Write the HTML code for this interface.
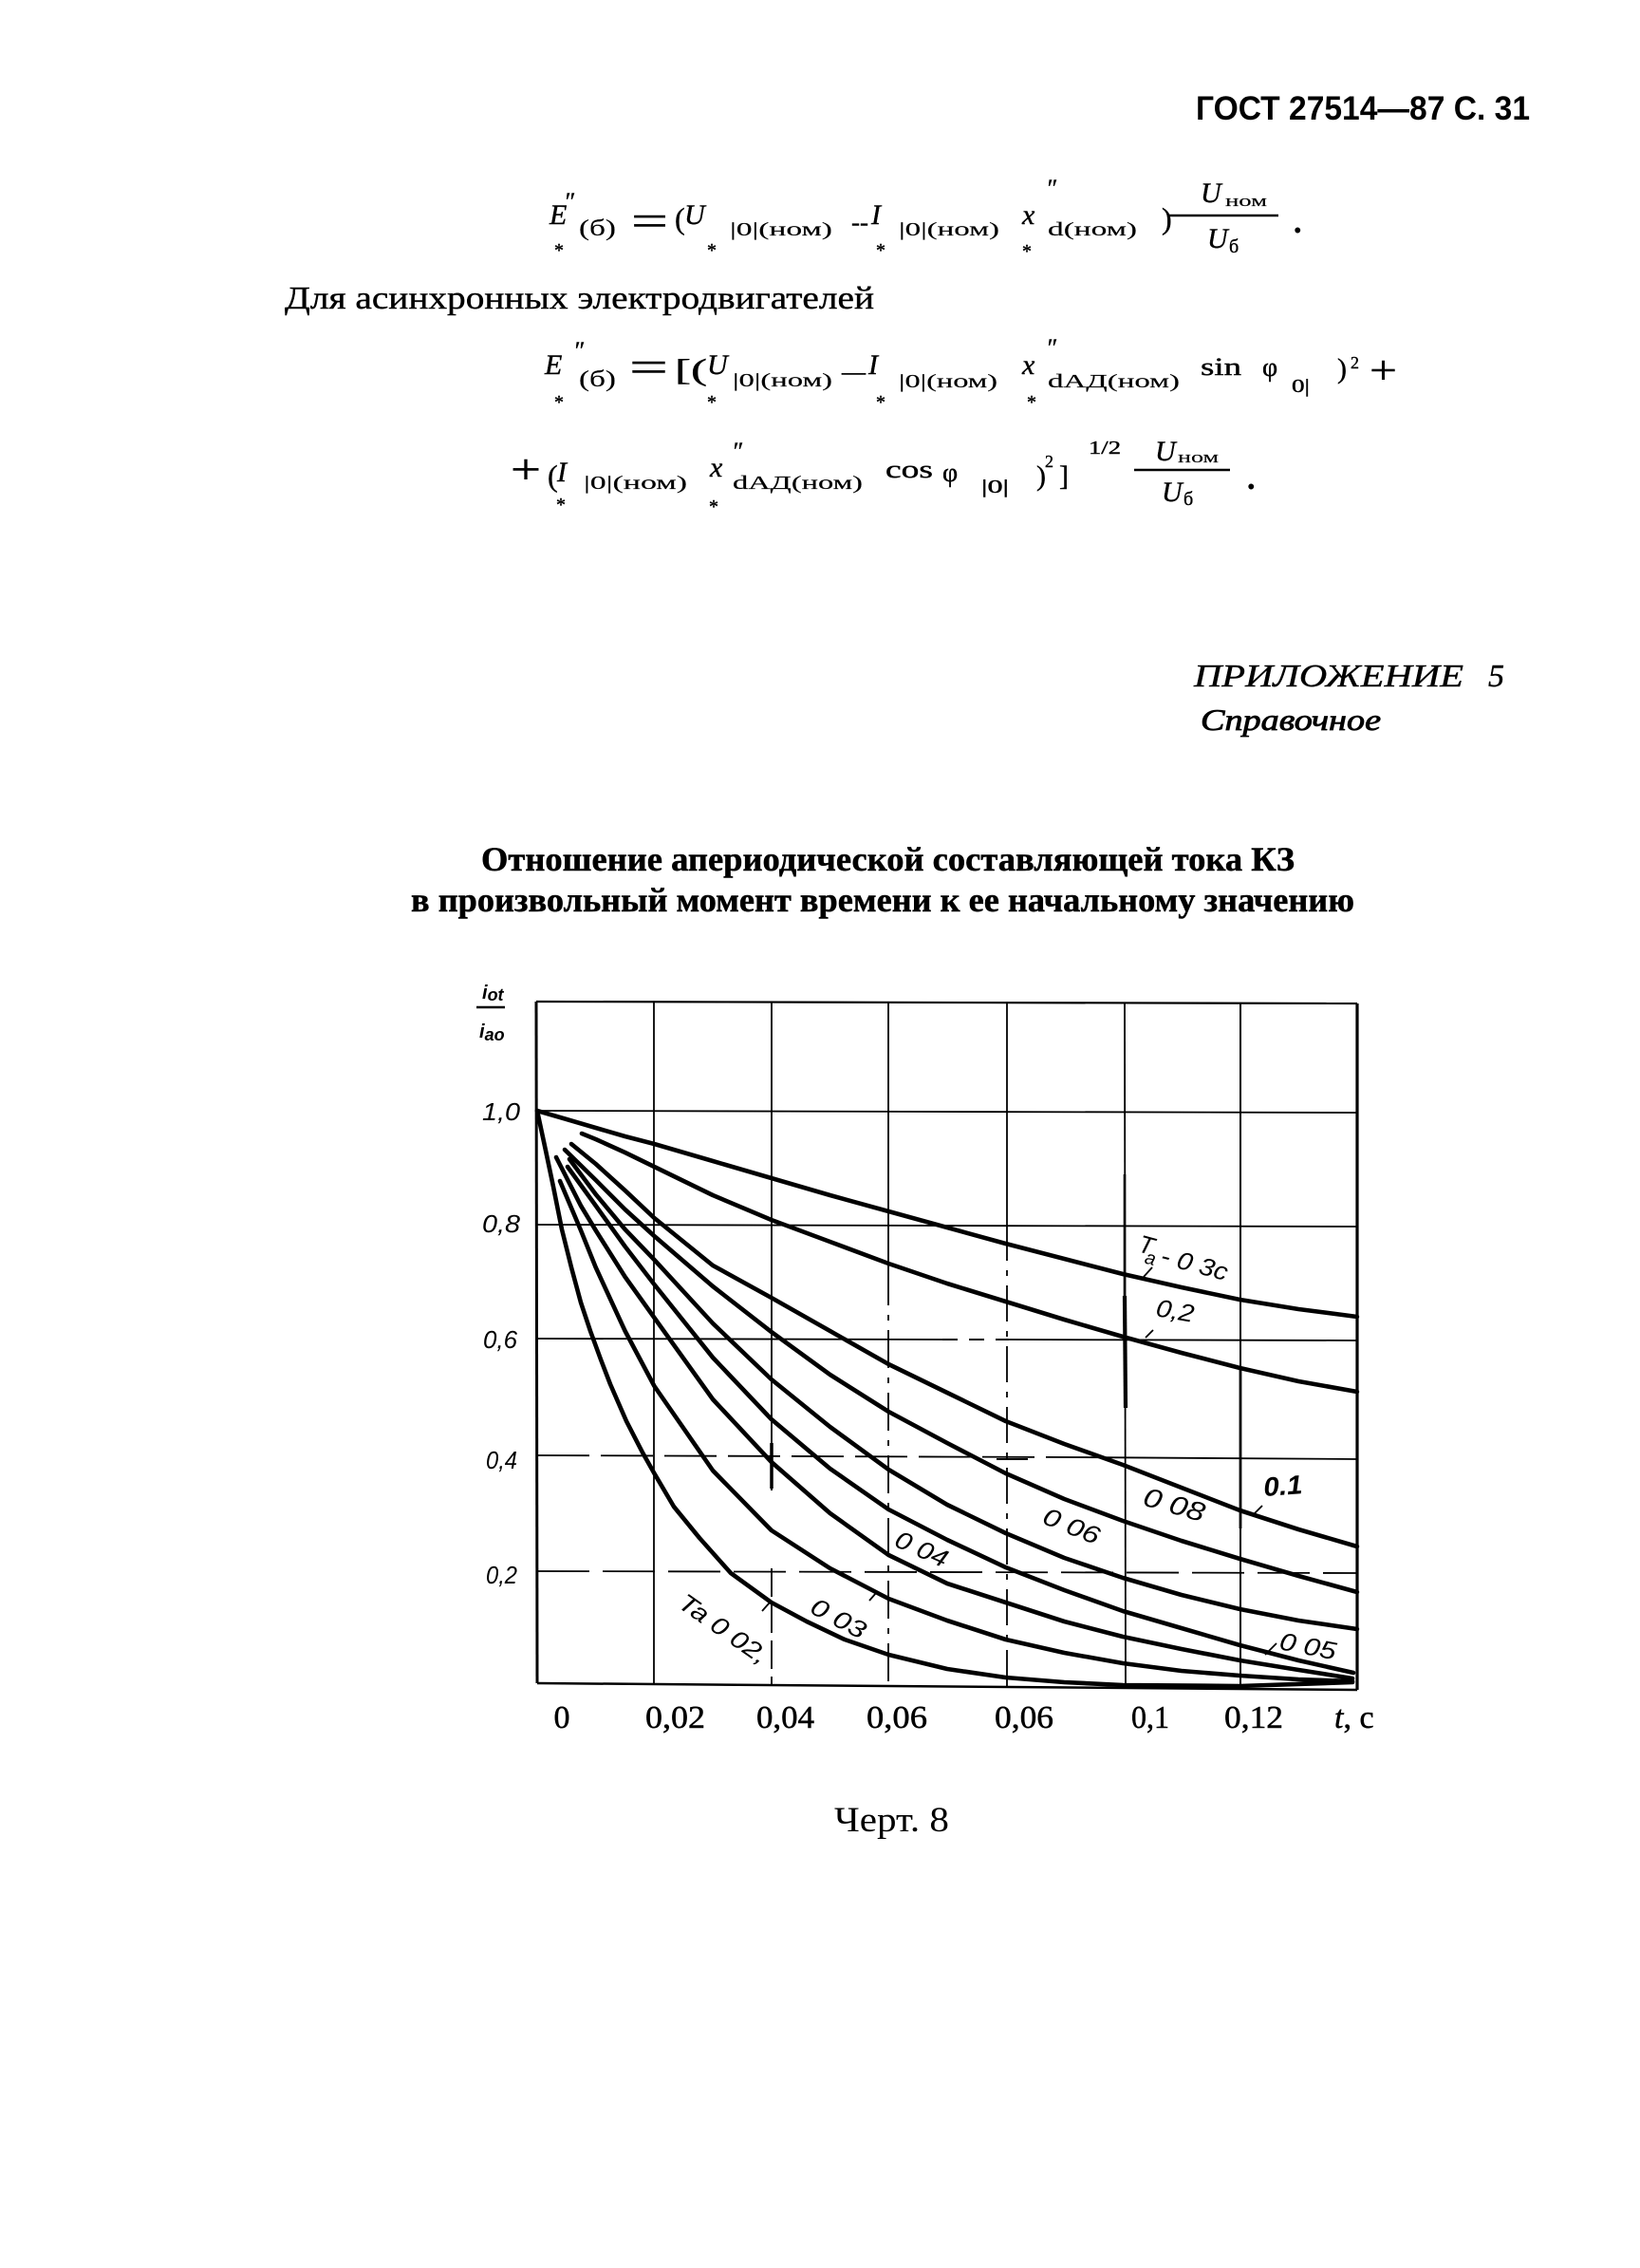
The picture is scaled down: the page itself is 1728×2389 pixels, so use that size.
<!DOCTYPE html>
<html><head><meta charset="utf-8">
<style>
html,body{margin:0;padding:0;background:#fff}
svg{display:block}
.s{font-family:"Liberation Serif","DejaVu Serif",serif}
.si{font-family:"Liberation Serif","DejaVu Serif",serif;font-style:italic}
.a{font-family:"Liberation Sans","DejaVu Sans",sans-serif}
.ai{font-family:"Liberation Sans","DejaVu Sans",sans-serif;font-style:italic}
</style></head>
<body>
<svg xmlns="http://www.w3.org/2000/svg" width="1728" height="2389" viewBox="0 0 1728 2389">
<rect width="1728" height="2389" fill="#fff"/>

<!-- Header -->
<text class="a" x="1260" y="126" font-size="35" font-weight="bold" textLength="352" lengthAdjust="spacingAndGlyphs">ГОСТ 27514—87 С. 31</text>

<!-- Formula 1 -->
<g fill="#000" stroke="#000" stroke-width="0.4">
<text class="si" x="579" y="236" font-size="30">E</text>
<text class="si" x="594" y="221" font-size="26">″</text>
<text class="s" x="610" y="248" font-size="24" textLength="39" lengthAdjust="spacingAndGlyphs" stroke-width="0.15">(б)</text>
<text class="s" x="665" y="248" font-size="46" textLength="39" lengthAdjust="spacingAndGlyphs">=</text>
<text class="s" x="711" y="241" font-size="32">(</text>
<text class="si" x="721" y="236" font-size="30">U</text>
<text class="s" x="769" y="248" font-size="20" textLength="108" lengthAdjust="spacingAndGlyphs" stroke-width="0.15">|0|(ном)</text>
<text class="s" x="897" y="243" font-size="26" textLength="18" lengthAdjust="spacingAndGlyphs">--</text>
<text class="si" x="918" y="236" font-size="30">I</text>
<text class="s" x="947" y="248" font-size="20" textLength="106" lengthAdjust="spacingAndGlyphs" stroke-width="0.15">|0|(ном)</text>
<text class="si" x="1077" y="236" font-size="30">x</text>
<text class="si" x="1102" y="207" font-size="26">″</text>
<text class="s" x="1104" y="248" font-size="20" textLength="94" lengthAdjust="spacingAndGlyphs" stroke-width="0.15">d(ном)</text>
<text class="s" x="1224" y="241" font-size="32">)</text>
<text class="si" x="1265" y="213" font-size="30">U</text>
<text class="s" x="1291" y="217" font-size="17" textLength="44" lengthAdjust="spacingAndGlyphs" stroke-width="0.15">ном</text>
<text class="si" x="1272" y="261" font-size="30">U</text>
<text class="s" x="1295" y="266" font-size="20">б</text>
<text class="s" x="1363" y="245" font-size="34" font-weight="bold">.</text>
<text class="s" x="589" y="270" font-size="20" text-anchor="middle">*</text>
<text class="s" x="750" y="270" font-size="20" text-anchor="middle">*</text>
<text class="s" x="928" y="270" font-size="20" text-anchor="middle">*</text>
<text class="s" x="1082" y="271" font-size="20" text-anchor="middle">*</text>
</g>
<line x1="1231" y1="227" x2="1347" y2="227" stroke="#000" stroke-width="2.5"/>

<!-- Text line -->
<text class="s" x="300" y="325" font-size="34" textLength="621" lengthAdjust="spacingAndGlyphs" stroke="#000" stroke-width="0.4">Для асинхронных электродвигателей</text>

<!-- Formula 2 -->
<g fill="#000" stroke="#000" stroke-width="0.4">
<text class="si" x="574" y="394" font-size="30">E</text>
<text class="si" x="604" y="378" font-size="26">″</text>
<text class="s" x="610" y="407" font-size="24" textLength="39" lengthAdjust="spacingAndGlyphs" stroke-width="0.15">(б)</text>
<text class="s" x="663" y="402" font-size="46" textLength="41" lengthAdjust="spacingAndGlyphs">=</text>
<text class="s" x="711" y="400" font-size="32" textLength="34" lengthAdjust="spacingAndGlyphs">[(</text>
<text class="si" x="745" y="394" font-size="30">U</text>
<text class="s" x="772" y="407" font-size="20" textLength="105" lengthAdjust="spacingAndGlyphs" stroke-width="0.15">|0|(ном)</text>
<text class="s" x="887" y="400" font-size="26" textLength="25" lengthAdjust="spacingAndGlyphs">—</text>
<text class="si" x="915" y="394" font-size="30">I</text>
<text class="s" x="947" y="408" font-size="20" textLength="104" lengthAdjust="spacingAndGlyphs" stroke-width="0.15">|0|(ном)</text>
<text class="si" x="1077" y="394" font-size="30">x</text>
<text class="si" x="1102" y="375" font-size="26">″</text>
<text class="s" x="1104" y="408" font-size="20" textLength="139" lengthAdjust="spacingAndGlyphs" stroke-width="0.15">dАД(ном)</text>
<text class="s" x="1265" y="395" font-size="26" textLength="43" lengthAdjust="spacingAndGlyphs">sin</text>
<text class="s" x="1330" y="396" font-size="28">φ</text>
<text class="s" x="1361" y="413" font-size="20" textLength="19" lengthAdjust="spacingAndGlyphs">0|</text>
<text class="s" x="1409" y="398" font-size="30">)</text>
<text class="s" x="1423" y="388" font-size="18">2</text>
<text class="s" x="1443" y="404" font-size="42" textLength="29" lengthAdjust="spacingAndGlyphs">+</text>
<text class="s" x="589" y="430" font-size="20" text-anchor="middle">*</text>
<text class="s" x="750" y="430" font-size="20" text-anchor="middle">*</text>
<text class="s" x="928" y="430" font-size="20" text-anchor="middle">*</text>
<text class="s" x="1087" y="430" font-size="20" text-anchor="middle">*</text>
</g>

<!-- Formula 3 -->
<g fill="#000" stroke="#000" stroke-width="0.4">
<text class="s" x="538" y="509" font-size="44" textLength="32" lengthAdjust="spacingAndGlyphs">+</text>
<text class="s" x="577" y="512" font-size="32">(</text>
<text class="si" x="587" y="507" font-size="30">I</text>
<text class="s" x="615" y="515" font-size="20" textLength="109" lengthAdjust="spacingAndGlyphs" stroke-width="0.15">|0|(ном)</text>
<text class="si" x="748" y="502" font-size="30">x</text>
<text class="si" x="771" y="484" font-size="26">″</text>
<text class="s" x="772" y="515" font-size="20" textLength="137" lengthAdjust="spacingAndGlyphs" stroke-width="0.15">dАД(ном)</text>
<text class="s" x="933" y="503" font-size="26" textLength="50" lengthAdjust="spacingAndGlyphs">cos</text>
<text class="s" x="993" y="507" font-size="28">φ</text>
<text class="s" x="1034" y="519" font-size="20" textLength="29" lengthAdjust="spacingAndGlyphs">|0|</text>
<text class="s" x="1092" y="511" font-size="30">)</text>
<text class="s" x="1101" y="492" font-size="18">2</text>
<text class="s" x="1116" y="511" font-size="30">]</text>
<text class="s" x="1147" y="478" font-size="20" textLength="34" lengthAdjust="spacingAndGlyphs">1/2</text>
<text class="si" x="1217" y="485" font-size="30">U</text>
<text class="s" x="1241" y="487" font-size="17" textLength="43" lengthAdjust="spacingAndGlyphs" stroke-width="0.15">ном</text>
<text class="si" x="1224" y="528" font-size="30">U</text>
<text class="s" x="1247" y="532" font-size="20">б</text>
<text class="s" x="1314" y="515" font-size="34" font-weight="bold">.</text>
<text class="s" x="591" y="538" font-size="20" text-anchor="middle">*</text>
<text class="s" x="752" y="540" font-size="20" text-anchor="middle">*</text>
</g>
<line x1="1195" y1="495" x2="1296" y2="495" stroke="#000" stroke-width="2.5"/>

<!-- Appendix -->
<text class="si" x="1258" y="723" font-size="34" textLength="284" lengthAdjust="spacingAndGlyphs" stroke="#000" stroke-width="0.4">ПРИЛОЖЕНИЕ</text>
<text class="si" x="1568" y="723" font-size="34" stroke="#000" stroke-width="0.4">5</text>
<text class="si" x="1265" y="769" font-size="32" textLength="190" lengthAdjust="spacingAndGlyphs" stroke="#000" stroke-width="0.8">Справочное</text>

<!-- Title -->
<text class="s" x="507" y="917" font-size="36" font-weight="bold" textLength="857" lengthAdjust="spacingAndGlyphs" stroke="#000" stroke-width="0.5">Отношение апериодической составляющей тока КЗ</text>
<text class="s" x="433" y="960" font-size="36" font-weight="bold" textLength="994" lengthAdjust="spacingAndGlyphs" stroke="#000" stroke-width="0.5">в произвольный момент времени к ее начальному значению</text>

<!-- Chart grid -->
<g stroke="#000" fill="none" stroke-linecap="butt">
  <line x1="565" y1="1055" x2="1430" y2="1057" stroke-width="2.2"/>
  <line x1="565" y1="1055" x2="566" y2="1773" stroke-width="3"/>
  <line x1="566" y1="1773" x2="1430" y2="1780" stroke-width="2.5"/>
  <line x1="1430" y1="1057" x2="1430" y2="1780" stroke-width="3.2"/>
  <line x1="689" y1="1056" x2="689" y2="1775" stroke-width="1.8"/>
  <line x1="813" y1="1056" x2="813" y2="1570" stroke-width="1.8"/>
  <line x1="813" y1="1520" x2="813" y2="1568" stroke-width="3.5"/>
  <line x1="813" y1="1652" x2="813" y2="1776" stroke-width="1.8" stroke-dasharray="30 8"/>
  <line x1="936" y1="1056" x2="936" y2="1335" stroke-width="1.8"/>
  <line x1="936" y1="1335" x2="936" y2="1777" stroke-width="1.8" stroke-dasharray="40 10 6 10"/>
  <line x1="1061" y1="1056" x2="1061" y2="1290" stroke-width="1.8"/>
  <line x1="1061" y1="1290" x2="1061" y2="1778" stroke-width="1.8" stroke-dasharray="38 10 6 10"/>
  <line x1="1185" y1="1056" x2="1186" y2="1778" stroke-width="1.8"/>
  <line x1="1185" y1="1237" x2="1185" y2="1365" stroke-width="2.6"/>
  <line x1="1185" y1="1365" x2="1186" y2="1483" stroke-width="4.2"/>
  <line x1="1307" y1="1056" x2="1307" y2="1779" stroke-width="2"/>
  <line x1="1307" y1="1440" x2="1307" y2="1610" stroke-width="2.8"/>
  <line x1="566" y1="1170" x2="1430" y2="1172" stroke-width="1.8"/>
  <line x1="566" y1="1290" x2="1430" y2="1292" stroke-width="1.8"/>
  <line x1="566" y1="1410" x2="993" y2="1411" stroke-width="1.8"/>
  <line x1="993" y1="1411" x2="1063" y2="1411" stroke-width="2" stroke-dasharray="16 12"/>
  <line x1="1063" y1="1411" x2="1430" y2="1412" stroke-width="1.8"/>
  <line x1="566" y1="1533" x2="1133" y2="1535" stroke-width="1.8" stroke-dasharray="55 12"/>
  <line x1="1133" y1="1535" x2="1430" y2="1537" stroke-width="1.8"/>
  <line x1="1050" y1="1537" x2="1083" y2="1537" stroke-width="2"/>
  <line x1="566" y1="1655" x2="1430" y2="1657" stroke-width="1.8" stroke-dasharray="55 14"/>
</g>

<!-- Curves -->
<g stroke="#000" fill="none" stroke-width="4.6" stroke-linejoin="round" stroke-linecap="round">
  <polyline points="566,1170 597,1179 627.7,1188 658.6,1197 689.4,1205 751.1,1223 812.8,1241 874.6,1259 936.3,1276 998,1293 1059.7,1310 1121.4,1326 1183.1,1342 1244.8,1356 1306.5,1369 1368.2,1379 1429.9,1387"/>
  <polyline points="613,1194 627.7,1200 658.6,1214 689.4,1229 751.1,1259 812.8,1285 874.6,1308 936.3,1331 998,1352 1059.7,1371 1121.4,1390 1183.1,1408 1244.8,1425 1306.5,1441 1368.2,1455 1429.9,1466"/>
  <polyline points="602,1205 627.7,1226 658.6,1254 689.4,1283 751.1,1333 812.8,1367 874.6,1402 936.3,1437 998,1467 1059.7,1497 1121.4,1521 1183.1,1543 1244.8,1567 1306.5,1591 1368.2,1611 1429.9,1629"/>
  <polyline points="595,1211 627.7,1243 658.6,1274 689.4,1302 751.1,1355 812.8,1403 874.6,1448 936.3,1487 998,1520 1059.7,1552 1121.4,1579 1183.1,1602 1244.8,1623 1306.5,1642 1368.2,1660 1429.9,1677"/>
  <polyline points="600,1221 627.7,1258 658.6,1295 689.4,1327 751.1,1394 812.8,1453 874.6,1503 936.3,1548 998,1585 1059.7,1615 1121.4,1641 1183.1,1662 1244.8,1680 1306.5,1695 1368.2,1707 1429.9,1716"/>
  <polyline points="598,1229 627.7,1270 658.6,1313 689.4,1353 751.1,1430 812.8,1495 874.6,1547 936.3,1590 998,1622 1059.7,1651 1121.4,1675 1183.1,1697 1244.8,1715 1306.5,1733 1368.2,1749 1426,1762"/>
  <polyline points="586,1219 612,1270 627.7,1296 658.6,1345 689.4,1388 751.1,1474 812.8,1540 874.6,1594 936.3,1638 998,1668 1059.7,1688 1121.4,1708 1183.1,1724 1244.8,1737 1306.5,1749 1368.2,1759 1425,1768"/>
  <polyline points="590,1244 612,1296 627.7,1335 658.6,1402 689.4,1460 751.1,1549 812.8,1612 874.6,1652 936.3,1684 998,1707 1059.7,1727 1121.4,1741 1183.1,1752 1244.8,1760 1306.5,1765 1368.2,1769 1425,1771"/>
  <polyline points="566,1170 575,1212 583,1250 592,1295 602,1335 612,1372 622,1402 633,1432 643,1458 660,1497 677,1530 689.4,1552 710,1587 737,1620 770,1657 812.8,1688 850,1708 890,1727 936.3,1743 998,1758 1059.7,1767 1121.4,1772 1183.1,1775 1306.5,1776 1425,1772"/>
</g>

<!-- Leaders -->
<g stroke="#000" stroke-width="1.8">
  <line x1="1205" y1="1345" x2="1214" y2="1335"/>
  <line x1="1207" y1="1409" x2="1215" y2="1401"/>
  <line x1="1322" y1="1594" x2="1330" y2="1586"/>
  <line x1="1333" y1="1743" x2="1345" y2="1731"/>
  <line x1="916" y1="1686" x2="923" y2="1678"/>
  <line x1="803" y1="1697" x2="811" y2="1688"/>
</g>

<!-- Curve labels -->
<g class="ai" fill="#000" font-size="26">
  <g transform="translate(1198,1318) rotate(15)">
    <text x="0" y="0" font-size="26">T</text>
    <text x="10" y="10" font-size="20">a</text>
    <text x="26" y="6" font-size="26" textLength="72" lengthAdjust="spacingAndGlyphs">- 0 3c</text>
  </g>
  <text transform="translate(1217,1386) rotate(10)" textLength="40" lengthAdjust="spacingAndGlyphs">0,2</text>
  <text transform="translate(1332,1576) rotate(-4)" font-weight="bold" font-size="28" textLength="41" lengthAdjust="spacingAndGlyphs">0.1</text>
  <text transform="translate(1203,1585) rotate(16)" font-size="28" textLength="66" lengthAdjust="spacingAndGlyphs">0 08</text>
  <text transform="translate(1097,1604) rotate(22)" textLength="62" lengthAdjust="spacingAndGlyphs">0 06</text>
  <text transform="translate(941,1628) rotate(24)" textLength="58" lengthAdjust="spacingAndGlyphs">0 04</text>
  <text transform="translate(1347,1737) rotate(11)" textLength="60" lengthAdjust="spacingAndGlyphs">0 05</text>
  <text transform="translate(852,1698) rotate(28)" textLength="62" lengthAdjust="spacingAndGlyphs">0 03</text>
  <text transform="translate(713,1692) rotate(35)" textLength="108" lengthAdjust="spacingAndGlyphs">Ta 0 02,</text>
</g>

<!-- Y axis labels -->
<g class="ai" fill="#000" font-size="26">
  <text x="508" y="1180" textLength="40" lengthAdjust="spacingAndGlyphs">1,0</text>
  <text x="508" y="1298" textLength="40" lengthAdjust="spacingAndGlyphs">0,8</text>
  <text x="509" y="1420" textLength="36" lengthAdjust="spacingAndGlyphs">0,6</text>
  <text x="512" y="1547" textLength="33" lengthAdjust="spacingAndGlyphs">0,4</text>
  <text class="a" x="512" y="1668" textLength="33" lengthAdjust="spacingAndGlyphs">0,2</text>
</g>
<g class="ai" fill="#000" font-weight="bold">
  <text x="508" y="1052" font-size="20">i<tspan font-size="18" dy="2">ot</tspan></text>
  <text x="505" y="1093" font-size="20">i<tspan font-size="18" dy="3">ao</tspan></text>
</g>
<line x1="502" y1="1061" x2="532" y2="1061" stroke="#000" stroke-width="2.5"/>

<!-- X axis labels -->
<g class="s" fill="#000" font-size="34" stroke="#000" stroke-width="0.5">
  <text x="592" y="1820" text-anchor="middle">0</text>
  <text x="680" y="1820" textLength="63" lengthAdjust="spacingAndGlyphs">0,02</text>
  <text x="797" y="1820" textLength="61" lengthAdjust="spacingAndGlyphs">0,04</text>
  <text x="913" y="1820" textLength="64" lengthAdjust="spacingAndGlyphs">0,06</text>
  <text x="1048" y="1820" textLength="62" lengthAdjust="spacingAndGlyphs">0,06</text>
  <text x="1192" y="1820" textLength="40" lengthAdjust="spacingAndGlyphs">0,1</text>
  <text x="1290" y="1820" textLength="62" lengthAdjust="spacingAndGlyphs">0,12</text>
  <text x="1406" y="1820"><tspan font-style="italic">t</tspan>, с</text>
</g>

<!-- Caption -->
<text class="s" x="879" y="1929" font-size="37" textLength="121" lengthAdjust="spacingAndGlyphs">Черт. 8</text>
</svg>
</body></html>
